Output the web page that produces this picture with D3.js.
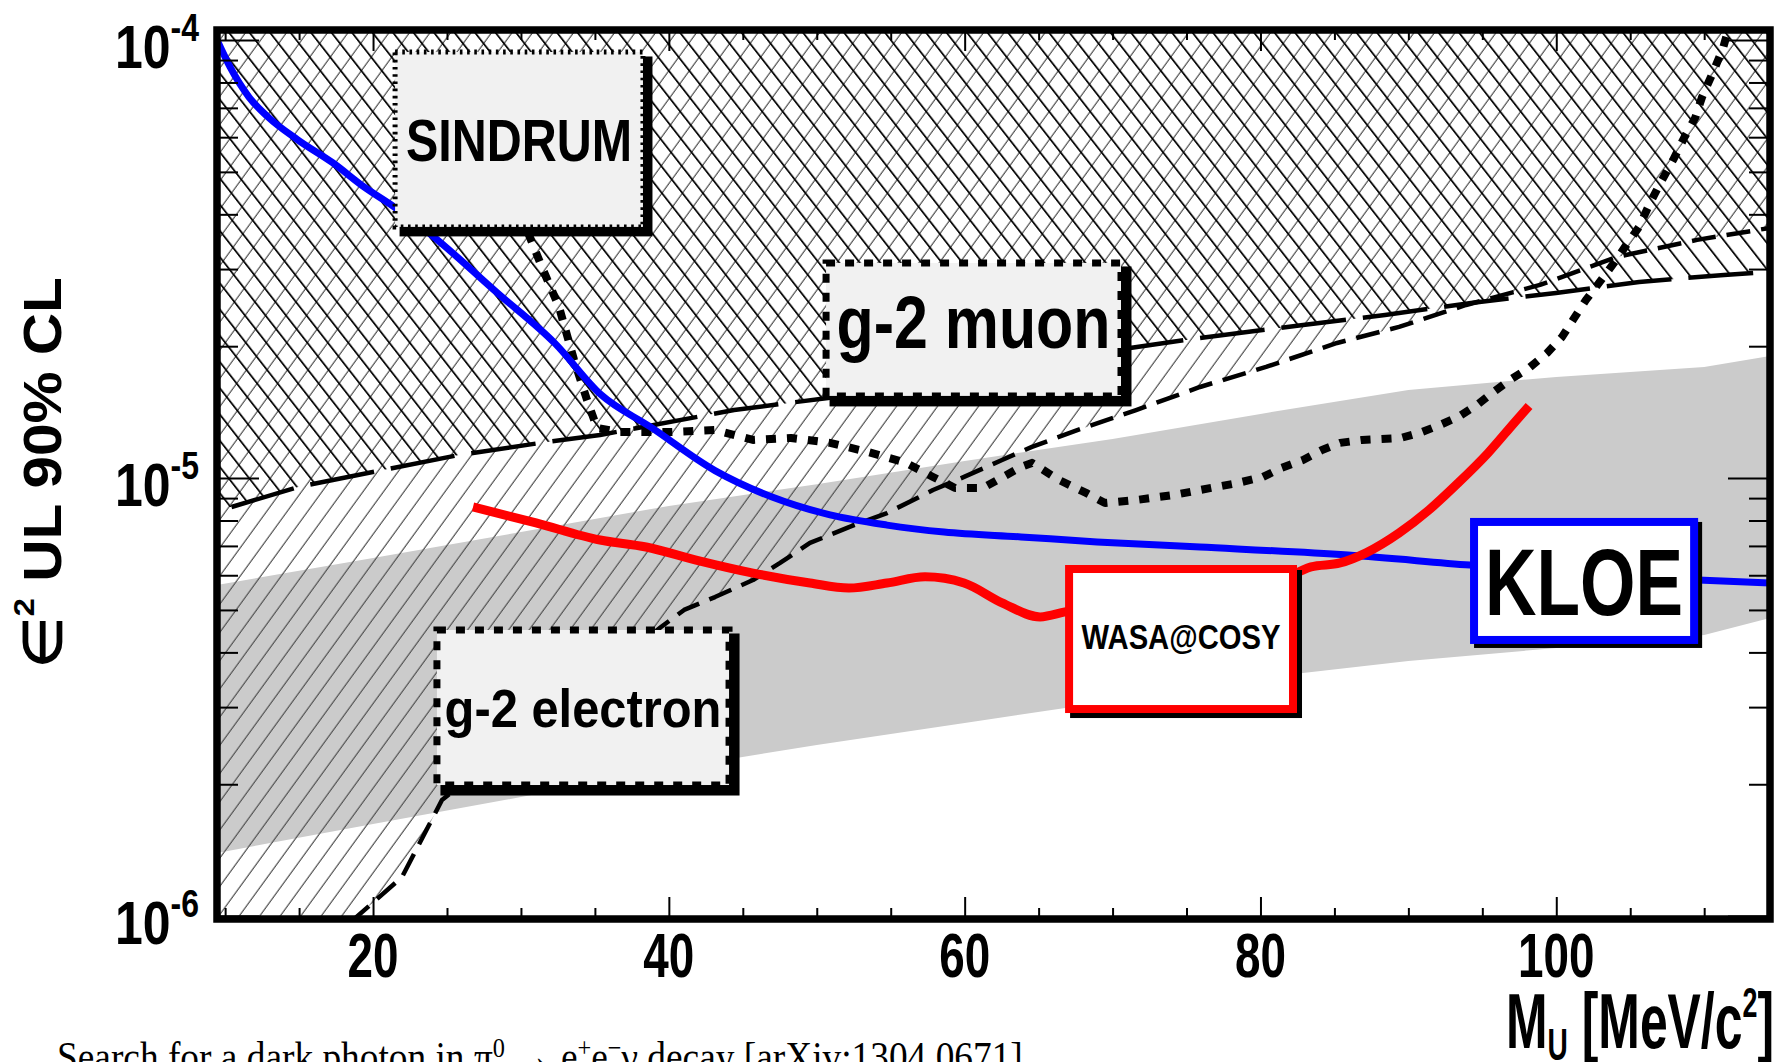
<!DOCTYPE html>
<html>
<head>
<meta charset="utf-8">
<script src="https://cdn.jsdelivr.net/npm/d3@7"></script>
<style>
  body { margin: 0; background: #fff; }
  svg { display: block; }
  text { font-family: "Liberation Sans", Arial, Helvetica, sans-serif; font-weight: bold; fill: #000; }
  text.caption { font-family: "Liberation Serif", "Times New Roman", serif; font-weight: normal; }
</style>
</head>
<body>
<svg id="chart"></svg>
<script>
// tick labels
const xTicks = [20, 40, 60, 80, 100];
const yTicks = [1e-6, 1e-5, 1e-4];

// KLOE upper limit (blue)
const kloeLimit = [[9.45,1.00e-4],[10.33,8.68e-5],[11.61,7.41e-5],[12.90,6.67e-5],[14.93,5.91e-5],
  [17.29,5.24e-5],[19.39,4.62e-5],[21.42,4.16e-5],[23.51,3.69e-5],[28.38,2.65e-5],[32.30,2.03e-5],
  [35.41,1.55e-5],[38.73,1.31e-5],[43.12,1.04e-5],[46.98,9.05e-6],[50.90,8.24e-6],[54.75,7.81e-6],
  [58.61,7.53e-6],[63.81,7.34e-6],[68.95,7.15e-6],[75.91,6.96e-6],[85.92,6.67e-6],[94.17,6.33e-6],
  [109.58,5.85e-6],[114.45,5.76e-6]];

// WASA@COSY upper limit (red)
const wasaLimit = [[26.76,8.59e-6],[31.02,7.90e-6],[35.35,7.22e-6],[38.46,6.96e-6],[41.84,6.50e-6],
  [45.69,6.07e-6],[49.54,5.76e-6],[52.18,5.61e-6],[54.75,5.76e-6],[57.32,5.95e-6],[59.96,5.76e-6],
  [62.53,5.19e-6],[65.10,4.82e-6],[66.79,4.95e-6],[82.40,6.07e-6],[83.42,6.27e-6],[85.38,6.40e-6],
  [87.14,6.75e-6],[89.37,7.49e-6],[91.40,8.46e-6],[93.36,9.74e-6],[95.39,1.141e-5],[97.15,1.336e-5],
  [98.16,1.461e-5]];

// SINDRUM upper limit (dotted)
const sindrumLimit = [[30.48,3.63e-5],[31.49,2.99e-5],[32.57,2.46e-5],[33.59,1.861e-5],[34.47,1.508e-5],
  [35.14,1.301e-5],[36.70,1.274e-5],[40.08,1.274e-5],[43.12,1.288e-5],[45.69,1.222e-5],[48.26,1.235e-5],
  [50.90,1.203e-5],[53.47,1.147e-5],[56.04,1.083e-5],[57.86,1.006e-5],[59.35,9.49e-6],[61.24,9.49e-6],
  [63.81,1.060e-5],[64.55,1.083e-5],[66.38,9.90e-6],[68.21,9.25e-6],[69.49,8.77e-6],[71.59,8.91e-6],
  [74.16,9.15e-6],[75.91,9.39e-6],[78.42,9.74e-6],[80.17,1.006e-5],[81.39,1.054e-5],[82.88,1.100e-5],
  [84.16,1.159e-5],[85.38,1.203e-5],[86.87,1.222e-5],[89.50,1.235e-5],[90.92,1.274e-5],[92.14,1.322e-5],
  [93.36,1.379e-5],[94.64,1.469e-5],[95.66,1.564e-5],[96.87,1.675e-5],[98.16,1.784e-5],[99.38,1.930e-5],
  [100.39,2.100e-5],[101.13,2.296e-5],[102.01,2.551e-5],[102.89,2.789e-5],[103.90,3.098e-5],
  [104.65,3.371e-5],[105.60,3.744e-5],[106.34,4.248e-5],[107.15,4.793e-5],[107.90,5.324e-5],
  [108.64,5.977e-5],[109.39,6.640e-5],[109.86,7.416e-5],[110.61,8.458e-5],[111.28,9.594e-5],
  [111.55,1.033e-4]];

// g-2 muon bound (long dashes)
const muonBound = [[10.43,8.59e-6],[14.93,9.54e-6],[20.67,1.043e-5],[25.81,1.129e-5],[31.76,1.209e-5],
  [35.35,1.254e-5],[44.41,1.430e-5],[50.76,1.524e-5],[71.18,1.982e-5],[75.91,2.089e-5],[82.88,2.236e-5],
  [88.42,2.357e-5],[94.24,2.510e-5],[99.98,2.646e-5],[105.6,2.804e-5],[111.34,2.909e-5],[114.45,2.955e-5]];

// g-2 electron bound (short dashes)
const elecBound = [[18.5,9.7e-7],[21.96,1.228e-6],[24.66,1.841e-6],[39.47,4.57e-6],[41.03,5.00e-6],
  [43.12,5.35e-6],[45.69,5.85e-6],[47.52,6.40e-6],[49.54,7.11e-6],[52.18,7.73e-6],[54.75,8.32e-6],
  [57.86,9.39e-6],[59.96,1.006e-5],[62.53,1.100e-5],[64.55,1.178e-5],[67.66,1.288e-5],[71.59,1.430e-5],
  [75.91,1.614e-5],[80.38,1.794e-5],[85.18,2.034e-5],[89.37,2.213e-5],[93.90,2.484e-5],[98.90,2.760e-5],
  [104.11,3.198e-5],[109.52,3.497e-5],[114.45,3.724e-5]];

// grey band
const bandMass = [9.45, 20, 30, 40, 50, 60, 70, 80, 90, 100, 110, 114.45];
const bandLow  = [1.394e-6, 1.623e-6, 1.870e-6, 2.167e-6, 2.459e-6, 2.760e-6, 3.098e-6, 3.497e-6, 3.823e-6, 4.094e-6, 4.384e-6, 4.794e-6];
const bandHigh = [5.70e-6, 6.57e-6, 7.53e-6, 8.64e-6, 9.68e-6, 1.094e-5, 1.228e-5, 1.401e-5, 1.589e-5, 1.702e-5, 1.794e-5, 1.900e-5];

// label boxes, corners in data units
const notes = [
  {text: "SINDRUM", m: [21.49, 38.25], e: [9.39e-5, 3.744e-5], fill: "#f1f1f1", line: "#000", lw: 5, dash: "2.6 4.6", shadow: 7, font: 60, w: 226, dy: 0},
  {text: "g-2 muon", m: [50.63, 70.57], e: [3.098e-5, 1.540e-5], fill: "#f1f1f1", line: "#000", lw: 7, dash: "9 10", shadow: 7, font: 74, w: 274, dy: -8},
  {text: "g-2 electron", m: [24.32, 44.07], e: [4.50e-6, 1.992e-6], fill: "#f1f1f1", line: "#000", lw: 7, dash: "9 10", shadow: 7, font: 54, w: 277, dy: 0},
  {text: "WASA@COSY", m: [67.06, 82.20], e: [6.20e-6, 2.97e-6], fill: "#fff", line: "#ff0000", lw: 8, dash: null, shadow: 5, font: 35, w: 199, dy: -3},
  {text: "KLOE", m: [94.44, 109.32], e: [7.94e-6, 4.27e-6], fill: "#fff", line: "#0000ff", lw: 8, dash: null, shadow: 4, font: 94, w: 198, dy: 0}
];

let margin = {top: 30, right: 9, bottom: 143, left: 217};
let width = 1779 - margin.left - margin.right;
let height = 1062 - margin.top - margin.bottom;

let svg = d3.select("#chart").attr("width", 1779).attr("height", 1062);
let defs = svg.append("defs");
let plot = svg.append("g").attr("transform", "translate(" + margin.left + "," + margin.top + ")");

let x = d3.scaleLinear().domain([9.45, 114.45]).range([0, width]);
let y = d3.scaleLog().domain([0.985e-6, 1.054e-4]).range([height, 0]);

defs.append("clipPath").attr("id", "frameClip")
    .append("rect").attr("width", width).attr("height", height);

function hatch(id, skew, color, w) {
  defs.append("pattern").attr("id", id)
      .attr("patternUnits", "userSpaceOnUse")
      .attr("width", 20.5).attr("height", 40)
      .attr("patternTransform", "skewX(" + skew + ")")
    .append("line")
      .attr("x1", 10).attr("x2", 10).attr("y1", -1).attr("y2", 41)
      .attr("stroke", color).attr("stroke-width", w);
}
hatch("hatchElec", -36, "#555", 1.5);
hatch("hatchMuon", 38, "#000", 2.2);

let inner = plot.append("g").attr("clip-path", "url(#frameClip)");

/* grey band */
inner.append("path")
    .datum(d3.range(bandMass.length))
    .attr("d", d3.area()
        .x(i => x(bandMass[i]))
        .y0(i => y(bandLow[i]))
        .y1(i => y(bandHigh[i])))
    .attr("fill", "#cbcbcb");

/* hatched exclusion regions */
let [xa, xb] = x.domain();
let [ya, yb] = y.domain();
let poly = d3.line().x(d => x(d[0])).y(d => y(d[1]));

inner.append("path")
    .attr("d", poly([[xa, ya], ...elecBound, [xb, yb], [xa, yb]]) + "Z")
    .attr("fill", "url(#hatchElec)");

inner.append("path")
    .attr("d", poly([[xa, muonBound[0][1]], ...muonBound, [xb, yb], [xa, yb]]) + "Z")
    .attr("fill", "url(#hatchMuon)");

function curve(data, color, w, dash, shape) {
  inner.append("path")
      .datum(data)
      .attr("d", d3.line().x(d => x(d[0])).y(d => y(d[1])).curve(shape))
      .attr("fill", "none")
      .attr("stroke", color)
      .attr("stroke-width", w)
      .attr("stroke-dasharray", dash)
      .attr("stroke-linejoin", "round");
}
curve(muonBound, "#000", 4.5, "65 17", d3.curveLinear);
curve(elecBound, "#000", 4.5, "24 11", d3.curveLinear);
curve(sindrumLimit, "#000", 8, "10 11", d3.curveLinear);
curve(kloeLimit, "#0000ff", 7, null, d3.curveMonotoneX);
curve(wasaLimit, "#ff0000", 9, null, d3.curveMonotoneX);

/* text helper: squeeze to a measured width */
function fitText(parent, w, prefix, anchor, build) {
  let t = parent.append("text").attr("text-anchor", anchor);
  build(t);
  let k = w / t.node().getComputedTextLength();
  t.attr("transform", prefix + " scale(" + k + ",1)");
  return t;
}

/* label boxes */
notes.forEach(function(n) {
  let bx = x(n.m[0]), bw = x(n.m[1]) - x(n.m[0]);
  let by = y(n.e[0]), bh = y(n.e[1]) - y(n.e[0]);
  let g = plot.append("g");
  g.append("rect")
      .attr("x", bx + n.shadow - n.lw / 2).attr("y", by + n.shadow - n.lw / 2)
      .attr("width", bw + n.lw).attr("height", bh + n.lw)
      .attr("fill", "#000");
  g.append("rect")
      .attr("x", bx).attr("y", by).attr("width", bw).attr("height", bh)
      .attr("fill", n.fill)
      .attr("stroke", n.line)
      .attr("stroke-width", n.lw)
      .attr("stroke-dasharray", n.dash);
  fitText(g, n.w, "translate(" + (bx + bw / 2) + "," + (by + bh / 2 + 0.358 * n.font + n.dy) + ")", "middle",
      t => t.attr("font-size", n.font).text(n.text));
});

/* frame */
plot.append("rect")
    .attr("width", width).attr("height", height)
    .attr("fill", "none").attr("stroke", "#000").attr("stroke-width", 7.5);

/* ticks, all pointing inwards */
let xMinor = d3.range(10, 115, 5).filter(v => xTicks.indexOf(v) < 0);
let yMinor = [];
[1e-6, 1e-5].forEach(function(d) { for (let m = 2; m <= 9; m++) yMinor.push(m * d); });

function ticks(axis, tx, ty) {
  plot.append("g")
      .attr("transform", "translate(" + tx + "," + ty + ")")
      .call(axis.tickFormat(""))
      .call(g => g.select(".domain").remove())
      .call(g => g.selectAll("line").attr("stroke", "#000").attr("stroke-width", 2));
}
ticks(d3.axisBottom(x).tickValues(xTicks).tickSize(-22), 0, height);
ticks(d3.axisBottom(x).tickValues(xMinor).tickSize(-11), 0, height);
ticks(d3.axisTop(x).tickValues(xTicks).tickSize(-21), 0, 0);
ticks(d3.axisTop(x).tickValues(xMinor).tickSize(-10), 0, 0);
ticks(d3.axisLeft(y).tickValues(yTicks).tickSize(-42), 0, 0);
ticks(d3.axisLeft(y).tickValues(yMinor).tickSize(-21), 0, 0);
ticks(d3.axisRight(y).tickValues(yTicks).tickSize(-42), width, 0);
ticks(d3.axisRight(y).tickValues(yMinor).tickSize(-21), width, 0);

/* tick labels */
xTicks.forEach(function(v) {
  fitText(plot, String(v).length * 25.5, "translate(" + x(v) + "," + (height + 58) + ")", "middle",
      t => t.attr("font-size", 63).text(v));
});
yTicks.forEach(function(v) {
  fitText(plot, 84, "translate(-18," + (y(v) + 28) + ")", "end", function(t) {
    t.attr("font-size", 61);
    t.append("tspan").text("10");
    t.append("tspan").attr("font-size", 39).attr("dy", -27).text(String(Math.round(Math.log10(v))));
  });
});

/* axis titles */
fitText(plot, 268, "translate(" + (width + 4) + "," + (height + 129) + ")", "end", function(t) {
  t.attr("font-size", 78);
  t.append("tspan").text("M");
  t.append("tspan").attr("font-size", 44).attr("dy", 12).text("U");
  t.append("tspan").attr("dy", -12).text(" [MeV/c");
  t.append("tspan").attr("font-size", 42).attr("dy", -31).text("2");
  t.append("tspan").attr("dy", 31).text("]");
});

fitText(plot, 390, "translate(-156," + (height / 2 - 2) + ") rotate(-90)", "middle", function(t) {
  t.attr("font-size", 53);
  t.append("tspan").text("∈");
  t.append("tspan").attr("font-size", 30).attr("dy", -27).text("2");
  t.append("tspan").attr("dy", 27).text(" UL 90% CL");
});

/* caption under the plot */
fitText(plot, 966, "translate(-160," + (height + 152) + ")", "start", function(t) {
  t.attr("class", "caption").attr("font-size", 43);
  t.append("tspan").text("Search for a dark photon in π");
  t.append("tspan").attr("font-size", 28).attr("dy", -14).text("0");
  t.append("tspan").attr("dy", 14).text(" → e");
  t.append("tspan").attr("font-size", 28).attr("dy", -14).text("+");
  t.append("tspan").attr("dy", 14).text("e");
  t.append("tspan").attr("font-size", 28).attr("dy", -14).text("−");
  t.append("tspan").attr("dy", 14).text("γ decay [arXiv:1304.0671]");
});
</script>
</body>
</html>
